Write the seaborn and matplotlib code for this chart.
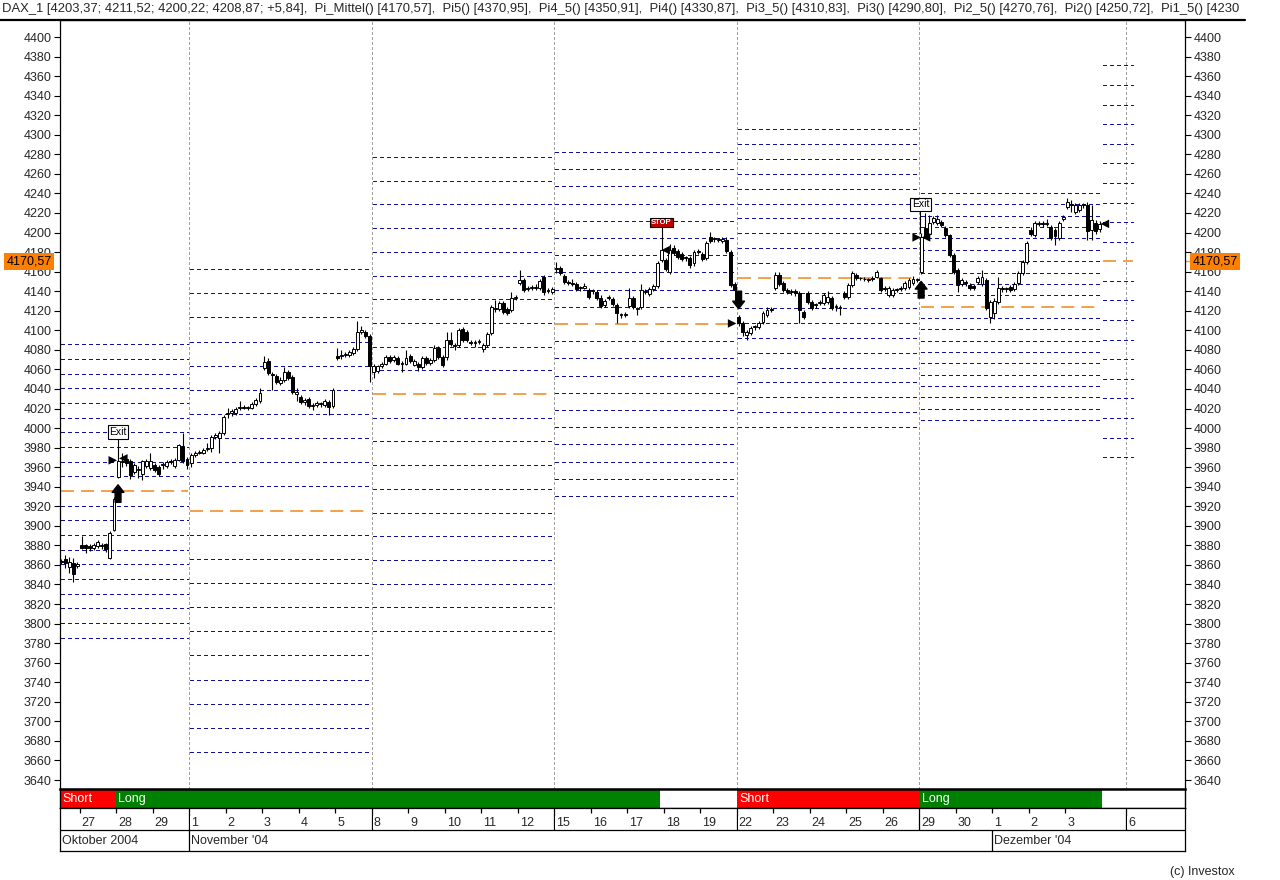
import numpy as np
import pandas as pd
import matplotlib
matplotlib.use('Agg')
import matplotlib.pyplot as plt
from matplotlib.lines import Line2D
import seaborn as sns

# stundenkerzen (open, high, low, close), 9 pro handelstag
oct26 = [(3864, 3866, 3861, 3863), (3866, 3870, 3857, 3862), (3858, 3868, 3852, 3863),
         (3862, 3867, 3843, 3851), (3859, 3863, 3857, 3861)]

wk_oct = [
    # 27.10.
    (3880, 3890, 3876, 3877), (3880, 3881, 3872, 3877), (3879, 3881, 3874, 3877),
    (3877, 3882, 3875, 3880), (3879, 3885, 3877, 3883), (3879, 3882, 3876, 3879),
    (3881, 3882, 3873, 3876), (3867, 3895, 3866, 3893), (3896, 3929, 3895, 3927),
    # 28.10.
    (3950, 3968, 3949, 3966), (3965, 3974, 3960, 3965), (3968, 3970, 3961, 3964),
    (3966, 3968, 3948, 3952), (3955, 3964, 3953, 3962), (3957, 3961, 3949, 3958),
    (3953, 3967, 3947, 3966), (3961, 3968, 3959, 3966), (3959, 3975, 3957, 3966),
    # 29.10.
    (3962, 3964, 3955, 3957), (3960, 3962, 3951, 3953), (3962, 3965, 3958, 3963),
    (3961, 3967, 3959, 3965), (3965, 3968, 3963, 3966), (3961, 3969, 3959, 3967),
    (3967, 3984, 3966, 3983), (3982, 3995, 3964, 3966), (3968, 3970, 3958, 3962),
]

wk_nov01 = [
    (3964, 3974, 3960, 3972), (3972, 3977, 3970, 3975), (3975, 3978, 3973, 3976),
    (3974, 3980, 3973, 3978), (3979, 3985, 3977, 3980), (3980, 3993, 3976, 3991),
    (3991, 3995, 3989, 3993), (3990, 3997, 3975, 3995), (3995, 4013, 3993, 4011),
    (4014, 4021, 4010, 4015), (4015, 4019, 4012, 4017), (4015, 4022, 4013, 4020),
    (4021, 4028, 4018, 4022), (4022, 4024, 4019, 4021), (4021, 4023, 4018, 4021),
    (4021, 4027, 4019, 4025), (4025, 4031, 4023, 4029), (4028, 4041, 4026, 4036),
    (4061, 4074, 4059, 4068), (4069, 4072, 4054, 4056), (4055, 4057, 4039, 4054),
    (4053, 4055, 4045, 4047), (4046, 4052, 4044, 4049), (4049, 4062, 4047, 4057),
    (4057, 4059, 4049, 4051), (4052, 4054, 4035, 4037), (4035, 4041, 4028, 4037),
    (4032, 4034, 4025, 4027), (4027, 4031, 4024, 4029), (4030, 4032, 4021, 4023),
    (4023, 4026, 4018, 4024), (4024, 4028, 4022, 4026), (4025, 4027, 4022, 4025),
    (4024, 4030, 4022, 4028), (4027, 4029, 4013, 4022), (4023, 4041, 4021, 4039),
    (4074, 4082, 4070, 4072), (4074, 4080, 4071, 4075), (4075, 4078, 4073, 4076),
    (4075, 4080, 4073, 4078), (4077, 4083, 4075, 4081), (4081, 4110, 4079, 4098),
    (4098, 4104, 4096, 4100), (4098, 4100, 4092, 4094), (4094, 4096, 4047, 4063),
]

wk_nov08 = [
    (4057, 4066, 4051, 4063), (4058, 4065, 4056, 4063), (4063, 4068, 4061, 4066),
    (4066, 4075, 4064, 4073), (4073, 4075, 4067, 4069), (4070, 4075, 4068, 4073),
    (4072, 4074, 4064, 4066), (4066, 4069, 4057, 4067), (4066, 4080, 4064, 4072),
    (4074, 4076, 4067, 4069), (4065, 4071, 4063, 4069), (4066, 4068, 4058, 4062),
    (4062, 4074, 4060, 4072), (4072, 4074, 4065, 4067), (4067, 4072, 4065, 4070),
    (4070, 4085, 4068, 4082), (4082, 4084, 4071, 4073), (4073, 4075, 4062, 4064),
    (4073, 4098, 4070, 4090), (4090, 4098, 4084, 4086), (4085, 4087, 4080, 4084),
    (4085, 4102, 4083, 4100), (4101, 4103, 4088, 4090), (4098, 4100, 4088, 4090),
    (4088, 4090, 4085, 4087), (4087, 4090, 4083, 4088), (4088, 4091, 4086, 4089),
    (4081, 4087, 4078, 4085), (4085, 4098, 4083, 4096), (4097, 4126, 4095, 4124),
    (4123, 4131, 4119, 4122), (4122, 4130, 4120, 4128), (4128, 4130, 4117, 4119),
    (4122, 4124, 4116, 4118), (4121, 4139, 4119, 4133), (4133, 4136, 4131, 4134),
    (4148, 4162, 4146, 4151), (4151, 4153, 4139, 4141), (4142, 4145, 4140, 4143),
    (4143, 4146, 4141, 4143), (4143, 4147, 4141, 4144), (4143, 4152, 4141, 4150),
    (4155, 4157, 4136, 4139), (4141, 4143, 4138, 4140), (4139, 4144, 4137, 4142),
]

wk_nov15 = [
    (4164, 4170, 4159, 4163), (4164, 4166, 4157, 4159), (4156, 4158, 4147, 4149),
    (4149, 4151, 4146, 4148), (4148, 4152, 4145, 4147), (4147, 4149, 4140, 4142),
    (4143, 4145, 4140, 4143), (4143, 4148, 4142, 4145), (4141, 4143, 4132, 4134),
    (4140, 4142, 4137, 4140), (4139, 4141, 4131, 4133), (4133, 4136, 4123, 4125),
    (4126, 4132, 4124, 4130), (4133, 4136, 4131, 4134), (4132, 4134, 4125, 4127),
    (4126, 4128, 4107, 4118), (4116, 4118, 4113, 4116), (4116, 4119, 4114, 4117),
    (4125, 4143, 4123, 4133), (4133, 4135, 4122, 4124), (4122, 4124, 4116, 4122),
    (4124, 4147, 4122, 4141), (4139, 4142, 4137, 4140), (4137, 4144, 4135, 4142),
    (4142, 4147, 4140, 4145), (4145, 4171, 4143, 4169), (4172, 4186, 4170, 4182),
    (4172, 4174, 4161, 4163), (4160, 4188, 4158, 4182), (4184, 4187, 4177, 4179),
    (4181, 4183, 4173, 4175), (4178, 4180, 4171, 4173), (4174, 4176, 4171, 4174),
    (4174, 4176, 4164, 4167), (4169, 4182, 4166, 4180), (4180, 4183, 4178, 4180),
    (4178, 4180, 4171, 4173), (4174, 4191, 4172, 4189), (4195, 4201, 4189, 4191),
    (4193, 4195, 4190, 4193), (4192, 4194, 4190, 4192), (4191, 4195, 4189, 4193),
    (4192, 4195, 4179, 4181), (4180, 4182, 4144, 4146), (4147, 4149, 4139, 4141),
]

wk_nov22 = [
    (4114, 4116, 4104, 4107), (4107, 4109, 4094, 4098), (4095, 4100, 4090, 4098),
    (4097, 4104, 4095, 4102), (4103, 4105, 4100, 4103), (4103, 4109, 4101, 4107),
    (4108, 4120, 4106, 4118), (4116, 4124, 4114, 4121), (4121, 4124, 4119, 4122),
    (4143, 4160, 4141, 4157), (4157, 4160, 4145, 4147), (4148, 4150, 4139, 4141),
    (4141, 4143, 4137, 4139), (4139, 4142, 4136, 4140), (4140, 4142, 4135, 4138),
    (4138, 4140, 4107, 4121), (4119, 4121, 4112, 4114), (4138, 4140, 4127, 4129),
    (4129, 4131, 4121, 4123), (4126, 4128, 4123, 4126), (4128, 4131, 4126, 4129),
    (4128, 4138, 4126, 4136), (4129, 4140, 4127, 4134), (4133, 4135, 4121, 4123),
    (4124, 4127, 4120, 4124), (4123, 4126, 4116, 4123), (4138, 4140, 4132, 4134),
    (4134, 4148, 4132, 4146), (4146, 4161, 4144, 4159), (4157, 4159, 4151, 4153),
    (4153, 4155, 4151, 4153), (4152, 4155, 4150, 4152), (4151, 4154, 4149, 4152),
    (4152, 4156, 4150, 4154), (4155, 4162, 4153, 4160), (4153, 4155, 4139, 4141),
    (4142, 4145, 4140, 4143), (4136, 4145, 4134, 4143), (4136, 4143, 4134, 4141),
    (4141, 4143, 4139, 4141), (4142, 4145, 4140, 4143), (4143, 4150, 4141, 4148),
    (4144, 4153, 4142, 4151), (4148, 4156, 4146, 4152), (4151, 4154, 4149, 4152),
]

wk_nov29 = [
    (4160, 4200, 4158, 4195), (4205, 4220, 4194, 4196), (4198, 4218, 4196, 4210),
    (4211, 4217, 4209, 4215), (4210, 4218, 4208, 4214), (4211, 4213, 4206, 4208),
    (4205, 4207, 4195, 4197), (4197, 4199, 4175, 4177), (4177, 4179, 4158, 4160),
    (4162, 4164, 4139, 4146), (4147, 4153, 4145, 4151), (4149, 4151, 4145, 4148),
    (4146, 4148, 4141, 4143), (4145, 4147, 4141, 4143), (4149, 4156, 4147, 4154),
    (4147, 4162, 4145, 4155), (4151, 4153, 4121, 4123), (4114, 4131, 4107, 4129),
    (4118, 4133, 4112, 4130), (4129, 4155, 4127, 4143), (4143, 4145, 4139, 4142),
    (4142, 4144, 4139, 4142), (4144, 4146, 4139, 4141), (4142, 4149, 4140, 4147),
    (4148, 4161, 4146, 4159), (4159, 4172, 4157, 4170), (4170, 4191, 4168, 4189),
    (4203, 4206, 4196, 4199), (4197, 4212, 4195, 4210), (4209, 4212, 4207, 4210),
    (4210, 4212, 4206, 4209), (4209, 4214, 4207, 4210), (4206, 4208, 4192, 4194),
    (4203, 4205, 4187, 4196), (4194, 4212, 4192, 4210), (4214, 4218, 4212, 4216),
    (4226, 4235, 4224, 4231), (4229, 4233, 4221, 4228), (4221, 4230, 4219, 4228),
    (4223, 4230, 4221, 4228), (4228, 4230, 4225, 4228), (4228, 4231, 4192, 4202),
    (4203, 4228, 4192, 4213), (4210, 4213, 4199, 4202), (4203.37, 4211.52, 4200.22, 4208.87),
]

# pivot-wochen: mittel und abstand der Pi-linien
pivot_mid = [3935.6, 3915.6, 4034.8, 4106.4, 4153.4, 4124.3, 4170.57]
pivot_step = [15.0, 24.7, 24.25, 17.6, 15.25, 11.6, 20.038]

day_labels = ['27', '28', '29', '1', '2', '3', '4', '5', '8', '9', '10', '11', '12',
              '15', '16', '17', '18', '19', '22', '23', '24', '25', '26', '29', '30',
              '1', '2', '3', '6']
month_labels = ['Oktober 2004', "November '04", "Dezember '04"]
signal_labels = ['Short', 'Long', '', 'Short', 'Long']

header = ("DAX_1 [4203,37; 4211,52; 4200,22; 4208,87; +5,84],  Pi_Mittel() [4170,57],  "
          "Pi5() [4370,95],  Pi4_5() [4350,91],  Pi4() [4330,87],  Pi3_5() [4310,83],  "
          "Pi3() [4290,80],  Pi2_5() [4270,76],  Pi2() [4250,72],  Pi1_5() [4230")

bars = oct26 + wk_oct + wk_nov01 + wk_nov08 + wk_nov15 + wk_nov22 + wk_nov29
df = pd.DataFrame(bars, columns=['open', 'high', 'low', 'close'])
df['x'] = np.arange(len(df)) - len(oct26)

sns.set_style('white')
plt.rcParams['font.family'] = ['Liberation Sans', 'DejaVu Sans']

W, H = 1280, 880


def box(l, t, r, b):
    return [l / W, 1 - b / H, (r - l) / W, (b - t) / H]


fig = plt.figure(figsize=(12.8, 8.8), dpi=100)
ax = fig.add_axes(box(60, 20, 1185, 789))
ax_sig = fig.add_axes(box(60, 789, 1185, 808))
ax_day = fig.add_axes(box(60, 808, 1185, 851))

xl = (-5.31, 272.05)
navy = '#101098'
orange = '#f29a3c'

# wochengrenzen
day_start = [-0.5 + 9 * i for i in range(len(day_labels) - 1)] + [257.5]
week_idx = [3, 8, 13, 18, 23, 28]
week_sep = [day_start[i] for i in week_idx]
seg_edges = [xl[0]] + week_sep[:5] + [251.5, 259.6]

for v in week_sep:
    ax.axvline(v, color='#a0a0a0', lw=0.72, ls=(0, (2.8, 2.8)), zorder=1, antialiased=False)

for k, (m, s) in enumerate(zip(pivot_mid, pivot_step)):
    a, b = seg_edges[k] + 0.35, seg_edges[k + 1] - 0.35
    lv = [m + i * s for i in range(-10, 11) if i != 0]
    ax.hlines(lv, a, b, colors=navy, lw=0.72, linestyles=(0, (4.0, 3.0)), zorder=2,
              antialiased=False)
    ax.hlines(m, a, b, colors=orange, lw=1.3, linestyles=(0, (7.2, 3.9)), zorder=2)

# kerzen
ax.vlines(df['x'], df['low'], df['high'], color='black', lw=0.8, zorder=3)
body = (df['close'] - df['open']).abs().clip(lower=0.9)
bottom = df[['open', 'close']].min(axis=1)
cols = np.where(df['close'] >= df['open'], 'white', 'black')
ax.bar(df['x'], body, bottom=bottom, width=0.72, color=cols,
       edgecolor='black', linewidth=0.7, zorder=4)

# ein-/ausstiegsmarken
marks = pd.DataFrame({
    'x': [7.7, 160.4, 205.9, 10.3, 144.0, 208.2, 252.3],
    'y': [3967, 4107, 4195, 3969, 4182, 4195, 4208.87],
    'side': ['r', 'r', 'r', 'l', 'l', 'l', 'l'],
})
sns.scatterplot(data=marks, x='x', y='y', style='side', markers={'r': '>', 'l': '<'},
                color='black', s=38, linewidth=0, legend=False, ax=ax, zorder=6)

arrow = dict(arrowstyle='simple,head_width=0.85,head_length=0.55,tail_width=0.42',
             fc='black', ec='black', shrinkA=0, shrinkB=0)
ax.annotate('', xy=(9, 3942), xytext=(9, 3924), arrowprops=arrow, zorder=6)
ax.annotate('', xy=(162, 4122), xytext=(162, 4140), arrowprops=arrow, zorder=6)
ax.annotate('', xy=(207, 4150), xytext=(207, 4133), arrowprops=arrow, zorder=6)

for x, y, hi, txt, fc, tc in [(9, 3996, 3968, 'Exit', 'white', 'black'),
                              (143, 4210.5, 4186, 'STOP', '#c00000', 'white'),
                              (206.8, 4229, 4200, 'Exit', 'white', 'black')]:
    ax.plot([x, x], [hi, y - 4], color='black', lw=0.8, zorder=5)
    ax.text(x, y, txt, ha='center', va='center', fontsize=7.5 if tc == 'black' else 5.5,
            color=tc, fontweight='bold' if tc == 'white' else 'normal', zorder=7,
            bbox=dict(boxstyle='square,pad=0.15', fc=fc, ec='black', lw=0.8))

ax.set_xlim(*xl)
ax.set_ylim(3630.8, 4417.4)
ax.set_xlabel('')
ax.set_ylabel('')
ax.set_yticks(np.arange(3640, 4401, 20))
ax.set_yticklabels([str(v) for v in range(3640, 4401, 20)])
ax.set_xticks([])
ax.tick_params(axis='y', left=True, right=True, labelleft=True, labelright=True,
               direction='out', length=4, width=0.8, pad=2, labelsize=9, color='black')
for sp in ax.spines.values():
    sp.set_color('black')
    sp.set_linewidth(0.9)

for xa, ha in [(-0.0075, 'right'), (1.0065, 'left')]:
    ax.annotate('4170,57', xy=(xa, pivot_mid[-1]), xycoords=('axes fraction', 'data'),
                ha=ha, va='center', fontsize=9, color='black', annotation_clip=False,
                zorder=10, bbox=dict(boxstyle='square,pad=0.18', fc='#ff8000', ec='none'))
ax.hlines(pivot_mid[-1], 1.0, 1.004, transform=ax.get_yaxis_transform(),
          colors=orange, lw=1, clip_on=False)

# signalzeile
sig_edges = [xl[0], 8.5, 142.5, 161.5, 206.5, 251.5]
sig_colors = {'Short': '#ff0000', 'Long': '#008000', '': 'white'}
for k, lab in enumerate(signal_labels):
    ax_sig.axvspan(sig_edges[k], sig_edges[k + 1], color=sig_colors[lab], lw=0)
    if lab:
        ax_sig.text(sig_edges[k] + 0.6, 0.5, lab, color='white', fontsize=9,
                    va='center', ha='left')
ax_sig.set_xlim(*xl)
ax_sig.set_ylim(0, 1)
ax_sig.set_xticks([])
ax_sig.set_yticks([])
for sp in ax_sig.spines.values():
    sp.set_color('black')
    sp.set_linewidth(1.0)
ax_sig.spines['top'].set_linewidth(1.8)

# datumszeilen
split = 21 / 43
ax_day.set_xlim(*xl)
ax_day.set_ylim(0, 1)
ax_day.set_xticks([])
ax_day.set_yticks([])
for sp in ax_day.spines.values():
    sp.set_color('black')
    sp.set_linewidth(0.9)
ax_day.axhline(split, color='black', lw=0.9)
for i, (d, lab) in enumerate(zip(day_start, day_labels)):
    if i in week_idx:
        ax_day.vlines(d, split, 1, colors='black', lw=0.9)
    else:
        ax_day.vlines(d, 0.88, 1, colors='black', lw=0.9)
    ax_day.text(d + 0.5, split + 0.03, lab, fontsize=9, ha='left', va='bottom',
                bbox=dict(boxstyle='square,pad=0.05', fc='white', ec='none'))
month_start = [xl[0], day_start[3], day_start[25]]
for ms, lab in zip(month_start, month_labels):
    if ms > xl[0]:
        ax_day.vlines(ms, 0, split, colors='black', lw=0.9)
    ax_day.text(ms + 0.5, split / 2, lab, fontsize=9, ha='left', va='center')

fig.text(2 / W, 1 - 9 / H, header, fontsize=9.4, ha='left', va='center')
fig.add_artist(Line2D([0, 1245 / W], [1 - 20 / H] * 2, color='black', lw=1.6))
fig.text(1235 / W, 1 - 872 / H, '(c) Investox', fontsize=9, ha='right', va='center')

fig.savefig('out.png', dpi=100, facecolor='white')
